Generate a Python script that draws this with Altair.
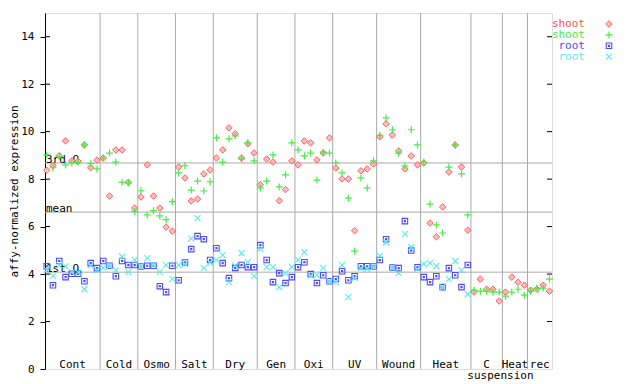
import altair as alt
import pandas as pd
import numpy as np

# ---------------- data ----------------
groups = ["Cont", "Cold", "Osmo", "Salt", "Dry", "Gen", "Oxi", "UV", "Wound", "Heat", "C", "Heat", "rec"]
group_sizes = [9, 6, 6, 6, 7, 6, 6, 7, 7, 8, 5, 4, 4]

shoot_red = [
    8.37, 8.57, 8.99, 9.61, 8.77, 8.75, 9.44, 8.48, 8.80,      # Cont
    8.89, 7.29, 9.23, 9.23, 7.87, 6.78,                        # Cold
    7.25, 8.60, 7.29, 6.78, 5.98, 5.81,                        # Osmo
    8.51, 8.05, 7.08, 7.16, 8.22, 8.39,                        # Salt
    8.89, 9.23, 10.16, 9.91, 8.89, 9.49, 9.10,                 # Dry
    7.77, 8.85, 8.72, 7.09, 7.56, 8.77,                        # Gen
    8.60, 9.61, 9.53, 8.81, 9.10, 9.74,                        # Oxi
    8.47, 8.01, 8.01, 5.83, 8.35, 8.43, 8.64,                  # UV
    9.78, 10.33, 9.86, 9.19, 8.43, 8.98, 8.60,                 # Wound
    8.68, 6.15, 5.57, 6.83, 8.30, 9.44, 8.51, 5.85,            # Heat
    3.24, 3.79, 3.36, 3.36, 2.86,                              # C suspension
    3.24, 3.87, 3.66, 3.53,                                    # Heat
    3.32, 3.36, 3.53, 3.28,                                    # rec
]
shoot_green = [
    9.02, 8.48, 8.95, 8.60, 8.68, 8.71, 9.44, 8.65, 8.43,
    8.89, 9.10, 8.72, 7.87, 7.84, 6.64,
    7.51, 6.49, 6.67, 6.45, 6.29, 7.05,
    8.26, 8.57, 7.54, 7.92, 7.50, 7.89,
    9.74, 8.72, 9.70, 9.82, 8.85, 9.53, 8.77,
    7.63, 7.92, 9.02, 7.67, 8.18, 9.53,
    9.23, 8.98, 9.10, 7.96, 9.14, 9.10,
    8.68, 8.26, 7.20, 4.97, 8.05, 7.63, 8.77,
    9.84, 10.58, 10.08, 9.10, 8.56, 10.08, 9.44,
    8.72, 6.95, 6.07, 5.73, 8.51, 9.44, 8.22, 6.49,
    3.32, 3.28, 3.28, 3.24, 3.24,
    3.07, 3.24, 3.36, 3.11,
    3.28, 3.41, 3.41, 3.79,
]
root_blue = [
    4.33, 3.53, 4.55, 3.87, 4.01, 4.01, 3.70, 4.46, 4.25,
    4.55, 4.35, 3.91, 4.55, 4.38, 4.38,
    4.32, 4.35, 4.35, 3.49, 3.24, 4.35,
    3.74, 4.49, 5.05, 5.60, 5.47, 4.59,
    5.09, 4.46, 3.83, 4.26, 4.38, 4.29, 4.29,
    5.22, 4.59, 3.66, 4.04, 3.62, 3.87,
    4.29, 4.50, 4.00, 3.62, 3.95, 3.70,
    3.79, 4.12, 3.74, 3.91, 4.33, 4.33, 4.32,
    4.59, 5.47, 4.28, 4.25, 6.23, 4.99, 4.29,
    3.87, 3.66, 3.91, 3.45, 4.25, 3.95, 3.45, 4.38,
]
root_cyan = [
    4.18, 3.92, 4.38, 4.32, 4.07, 4.07, 3.36, 4.37, 4.18,
    4.26, 4.33, 4.16, 4.73, 4.08, 4.60,
    4.32, 4.67, 4.38, 4.08, 4.38, 3.79,
    4.38, 4.43, 5.49, 6.36, 4.25, 4.48,
    4.60, 4.80, 3.66, 4.36, 4.88, 4.50, 3.91,
    5.05, 4.29, 4.29, 3.45, 4.04, 4.30,
    4.60, 4.92, 3.93, 3.96, 4.25, 3.70,
    3.65, 4.38, 3.03, 3.84, 4.25, 4.21, 4.30,
    4.77, 5.33, 4.27, 4.04, 5.69, 5.13, 4.22,
    4.43, 4.46, 4.34, 3.45, 3.79, 4.55, 4.16, 3.15,
]

quart_labels = ["3rd Q", "mean", "1st Q"]
quart_values = [8.68, 6.61, 4.08]
y_ticks = [0, 2, 4, 6, 8, 10, 12, 14]
legend_labels = ["shoot", "shoot", "root", "root"]
sublabel = "suspension"

# ---------------- styling ----------------
RED, GREEN, BLUE, CYAN = "#ff5050", "#44ee44", "#4a4aff", "#55eeee"
GRAY = "#aaaaaa"
FONT = "DejaVu Sans Mono"
FS = 11
W, H = 507, 356
XMIN, XMAX = -0.27, 80.4

PLUS = "M-1,0L1,0M0,-1L0,1"
CROSS = "M-1,-1L1,1M-1,1L1,-1"
SQDOT = "M-1,-1L1,-1L1,1L-1,1Z M-0.2,-0.2L0.2,-0.2L0.2,0.2L-0.2,0.2Z"

# ---------------- derived tables ----------------
cum = np.cumsum(group_sizes)
bounds = [c - 0.5 for c in cum[:-1]]
edges = [XMIN] + bounds + [XMAX]
centers = [(edges[k] + edges[k + 1]) / 2 for k in range(len(groups))]
df_div = pd.DataFrame({"pos": bounds})
df_grp = pd.DataFrame({"name": groups, "center": centers})
df_sub = pd.DataFrame({"name": [sublabel], "center": [bounds[10] - 0.3]})
df_q = pd.DataFrame({"label": quart_labels, "v": quart_values})
df_t = pd.DataFrame({"t": y_ticks[1:]})


def series_df(vals):
    return pd.DataFrame({"idx": list(range(len(vals))), "value": vals})


yscale = alt.Scale(domain=[0, 15], nice=False, zero=False)
yaxis = alt.Axis(values=y_ticks, title="affy-normalized expression", grid=False,
                 titleX=-31, titleY=H / 2, titleAngle=270, titleAlign="center",
                 titleBaseline="middle", titleFont=FONT, titleFontSize=FS,
                 titleFontWeight="normal", titleColor="black",
                 labelFont=FONT, labelFontSize=FS, labelColor="black",
                 tickSize=5, tickColor="black", labelPadding=6, domainColor="black")


def Y(field):
    return alt.Y(field, scale=yscale, axis=yaxis)


def X(field):
    return alt.X(field, scale=alt.Scale(domain=[XMIN, XMAX], nice=False, zero=False), axis=None)


dividers = alt.Chart(df_div).mark_rule(color=GRAY, strokeWidth=1).encode(x=X("pos:Q"))
qlines = alt.Chart(df_q).mark_rule(color=GRAY, strokeWidth=1).encode(y=Y("v:Q"))
qtext = alt.Chart(df_q).mark_text(align="left", baseline="alphabetic", font=FONT, fontSize=FS,
                                  color="black").encode(x=alt.value(1), y=Y("v:Q"), text="label:N")
lticks = alt.Chart(df_t).mark_rule(color="black").encode(y=Y("t:Q"), x=alt.value(0), x2=alt.value(5))
rticks = alt.Chart(df_t).mark_rule(color="black").encode(y=Y("t:Q"), x=alt.value(W - 5), x2=alt.value(W))

mark_styles = [
    dict(shape="diamond", filled=True, fill="#ffbcbc", stroke=RED, strokeWidth=0.9, size=42, opacity=1),
    dict(shape=PLUS, filled=False, color=GREEN, strokeWidth=1.2, size=49, opacity=1),
    dict(shape=SQDOT, filled=False, color=BLUE, strokeWidth=1.1, size=30, opacity=1),
    dict(shape=CROSS, filled=False, color=CYAN, strokeWidth=1.1, size=36, opacity=1),
]
series = [shoot_red, shoot_green, root_blue, root_cyan]
point_layers = [
    alt.Chart(series_df(vals)).mark_point(**st).encode(x=X("idx:Q"), y=Y("value:Q"))
    for vals, st in zip(series, mark_styles)
]

glabels = alt.Chart(df_grp).mark_text(align="center", baseline="middle", font=FONT, fontSize=FS,
                                      color="black").encode(x=X("center:Q"), y=alt.value(H - 4.5),
                                                            text="name:N")
slabel = alt.Chart(df_sub).mark_text(align="center", baseline="middle", font=FONT, fontSize=FS,
                                     color="black").encode(x=X("center:Q"), y=alt.value(H + 6.5),
                                                           text="name:N")

legend_layers = []
leg_colors = [RED, GREEN, BLUE, CYAN]
for k, lab in enumerate(legend_labels):
    d = pd.DataFrame({"label": [lab]})
    yy = 11 + 10.9 * k
    legend_layers.append(
        alt.Chart(d).mark_text(align="right", baseline="middle", font=FONT, fontSize=FS,
                               color=leg_colors[k]).encode(x=alt.value(540), y=alt.value(yy), text="label:N"))
    legend_layers.append(
        alt.Chart(d).mark_point(**mark_styles[k]).encode(x=alt.value(564), y=alt.value(yy)))

chart = alt.layer(
    dividers, qlines, qtext, lticks, rticks, *point_layers, glabels, slabel, *legend_layers
).properties(
    width=W, height=H,
    autosize=alt.AutoSizeParams(type="none"),
    padding={"left": 37, "top": 5, "right": 80, "bottom": 14},
).configure_view(stroke="black", strokeWidth=1).configure(background="white")

chart.save("out.html", embed_options={"renderer": "svg", "actions": False})
